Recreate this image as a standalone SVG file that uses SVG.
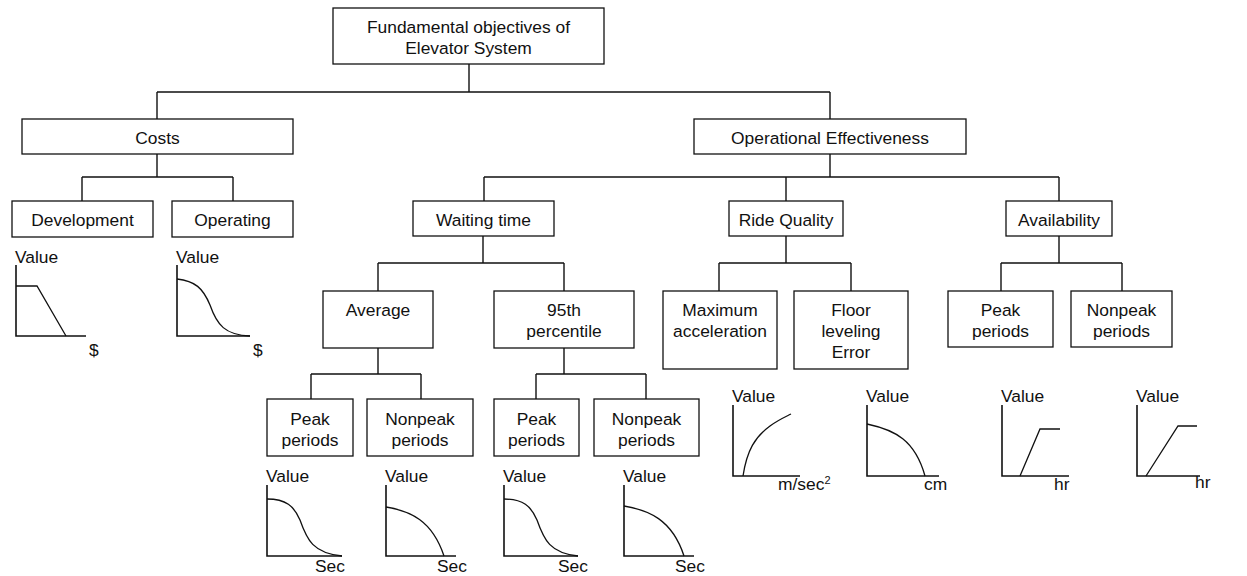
<svg xmlns="http://www.w3.org/2000/svg" width="1247" height="576" viewBox="0 0 1247 576">
  <style>
    .box { fill: #fff; stroke: #111; stroke-width: 1.3; }
    .lbl { font-family: "Liberation Sans", Arial, sans-serif; font-size: 17.4px; fill: #111; text-anchor: middle; }
    .ax { font-family: "Liberation Sans", Arial, sans-serif; font-size: 17.4px; fill: #111; }
    .link { fill: none; stroke: #111; stroke-width: 1.4; }
    .axis { fill: none; stroke: #111; stroke-width: 1.6; }
    .curve { fill: none; stroke: #111; stroke-width: 1.3; }
  </style>

  <!-- tree connectors -->
  <g id="connectors" class="link">
    <path d="M469,64 V92 M157,92 H830 M157,92 V119 M830,92 V119"/>
    <path d="M157,154 V177 M82,177 H233 M82,177 V201 M233,177 V201"/>
    <path d="M830,154 V177 M484,177 H1059 M484,177 V201 M786,177 V201 M1059,177 V201"/>
    <path d="M483,236 V263 M378,263 H564 M378,263 V291 M564,263 V291"/>
    <path d="M786,236 V263 M719,263 H851 M719,263 V291 M851,263 V291"/>
    <path d="M1059,236 V263 M1001,263 H1122 M1001,263 V291 M1122,263 V291"/>
    <path d="M378,348 V374 M311,374 H421 M311,374 V399 M421,374 V399"/>
    <path d="M564,348 V374 M536,374 H646 M536,374 V399 M646,374 V399"/>
  </g>

  <!-- objective nodes -->
  <g id="root">
    <rect class="box" x="333" y="8" width="271" height="56"/>
    <text class="lbl" x="468.5" y="33">Fundamental objectives of</text>
    <text class="lbl" x="468.5" y="54">Elevator System</text>
  </g>
  <g id="costs">
    <rect class="box" x="22" y="119" width="271" height="35"/>
    <text class="lbl" x="157.5" y="144">Costs</text>
  </g>
  <g id="operational-effectiveness">
    <rect class="box" x="694" y="119" width="272" height="35"/>
    <text class="lbl" x="830" y="144">Operational Effectiveness</text>
  </g>
  <g id="development">
    <rect class="box" x="12" y="201" width="141" height="36"/>
    <text class="lbl" x="82.5" y="226">Development</text>
  </g>
  <g id="operating">
    <rect class="box" x="172" y="201" width="121" height="36"/>
    <text class="lbl" x="232.5" y="226">Operating</text>
  </g>
  <g id="waiting-time">
    <rect class="box" x="413" y="201" width="141" height="35"/>
    <text class="lbl" x="483.5" y="226">Waiting time</text>
  </g>
  <g id="ride-quality">
    <rect class="box" x="729" y="201" width="114" height="35"/>
    <text class="lbl" x="786" y="226">Ride Quality</text>
  </g>
  <g id="availability">
    <rect class="box" x="1006" y="201" width="106" height="35"/>
    <text class="lbl" x="1059" y="226">Availability</text>
  </g>
  <g id="average">
    <rect class="box" x="323" y="291" width="110" height="57"/>
    <text class="lbl" x="378" y="316">Average</text>
  </g>
  <g id="percentile-95">
    <rect class="box" x="494" y="291" width="140" height="57"/>
    <text class="lbl" x="564" y="316">95th</text>
    <text class="lbl" x="564" y="337">percentile</text>
  </g>
  <g id="max-acceleration">
    <rect class="box" x="663" y="291" width="114" height="78"/>
    <text class="lbl" x="720" y="316">Maximum</text>
    <text class="lbl" x="720" y="337">acceleration</text>
  </g>
  <g id="floor-leveling">
    <rect class="box" x="794" y="291" width="114" height="78"/>
    <text class="lbl" x="851" y="316">Floor</text>
    <text class="lbl" x="851" y="337">leveling</text>
    <text class="lbl" x="851" y="358">Error</text>
  </g>
  <g id="avail-peak">
    <rect class="box" x="948" y="291" width="105" height="56"/>
    <text class="lbl" x="1000.5" y="316">Peak</text>
    <text class="lbl" x="1000.5" y="337">periods</text>
  </g>
  <g id="avail-nonpeak">
    <rect class="box" x="1071" y="291" width="101" height="56"/>
    <text class="lbl" x="1121.5" y="316">Nonpeak</text>
    <text class="lbl" x="1121.5" y="337">periods</text>
  </g>
  <g id="avg-peak">
    <rect class="box" x="267" y="399" width="86" height="57"/>
    <text class="lbl" x="310" y="425">Peak</text>
    <text class="lbl" x="310" y="446">periods</text>
  </g>
  <g id="avg-nonpeak">
    <rect class="box" x="367" y="399" width="106" height="57"/>
    <text class="lbl" x="420" y="425">Nonpeak</text>
    <text class="lbl" x="420" y="446">periods</text>
  </g>
  <g id="p95-peak">
    <rect class="box" x="494" y="399" width="85" height="57"/>
    <text class="lbl" x="536.5" y="425">Peak</text>
    <text class="lbl" x="536.5" y="446">periods</text>
  </g>
  <g id="p95-nonpeak">
    <rect class="box" x="594" y="399" width="105" height="57"/>
    <text class="lbl" x="646.5" y="425">Nonpeak</text>
    <text class="lbl" x="646.5" y="446">periods</text>
  </g>

  <!-- value functions: cost attributes -->
  <g id="vf-development">
    <text class="ax" x="15" y="263">Value</text>
    <path class="axis" d="M16,265 V336 H86"/>
    <path class="curve" d="M16,286 H37 L66,336"/>
    <text class="ax" x="89" y="356">$</text>
  </g>
  <g id="vf-operating">
    <text class="ax" x="176" y="263">Value</text>
    <path class="axis" d="M177,265 V336 H250"/>
    <path class="curve" d="M177,279 C195,281 203,288 210,305 C217,325 225,335 250,336"/>
    <text class="ax" x="253" y="356">$</text>
  </g>

  <!-- value functions: waiting time -->
  <g id="vf-avg-peak">
    <text class="ax" x="266" y="482">Value</text>
    <path class="axis" d="M267,485 V556 H342"/>
    <path class="curve" d="M267,499 C286,499 294,506 300,520 C307,540 313,553 342,556"/>
    <text class="ax" x="315" y="572">Sec</text>
  </g>
  <g id="vf-avg-nonpeak">
    <text class="ax" x="385" y="482">Value</text>
    <path class="axis" d="M386,485 V556 H456"/>
    <path class="curve" d="M386,507 C410,511 432,520 444,556"/>
    <text class="ax" x="437" y="572">Sec</text>
  </g>
  <g id="vf-p95-peak">
    <text class="ax" x="503" y="482">Value</text>
    <path class="axis" d="M504,485 V556 H578"/>
    <path class="curve" d="M504,499 C523,499 531,506 537,520 C544,540 550,553 578,556"/>
    <text class="ax" x="558" y="572">Sec</text>
  </g>
  <g id="vf-p95-nonpeak">
    <text class="ax" x="623" y="482">Value</text>
    <path class="axis" d="M624,485 V556 H694"/>
    <path class="curve" d="M624,506 C648,510 672,519 684,556"/>
    <text class="ax" x="675" y="572">Sec</text>
  </g>

  <!-- value functions: ride quality -->
  <g id="vf-acceleration">
    <text class="ax" x="732" y="402">Value</text>
    <path class="axis" d="M733,405 V476 H800"/>
    <path class="curve" d="M743,476 C747,450 755,437 770,426 C778,420 785,417 791,414"/>
    <text class="ax" x="778" y="490">m/sec<tspan font-size="11" dy="-6">2</tspan></text>
  </g>
  <g id="vf-floor-leveling">
    <text class="ax" x="866" y="402">Value</text>
    <path class="axis" d="M867,405 V476 H939"/>
    <path class="curve" d="M867,424 C895,430 915,440 925,476"/>
    <text class="ax" x="924" y="490">cm</text>
  </g>

  <!-- value functions: availability -->
  <g id="vf-avail-peak">
    <text class="ax" x="1001" y="402">Value</text>
    <path class="axis" d="M1002,405 V476 H1069"/>
    <path class="curve" d="M1020,476 L1040,429 H1060"/>
    <text class="ax" x="1054" y="490">hr</text>
  </g>
  <g id="vf-avail-nonpeak">
    <text class="ax" x="1136" y="402">Value</text>
    <path class="axis" d="M1137,405 V476 H1200"/>
    <path class="curve" d="M1146,476 L1178,426 H1197"/>
    <text class="ax" x="1195" y="488">hr</text>
  </g>
</svg>
